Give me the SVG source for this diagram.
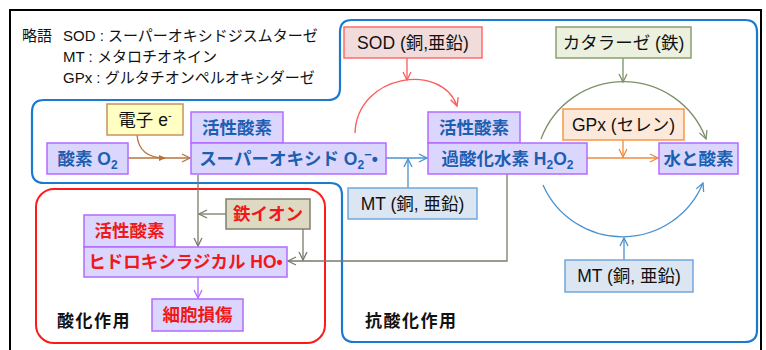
<svg xmlns="http://www.w3.org/2000/svg" width="766" height="350" viewBox="0 0 766 350">
<style>
text{font-family:"Liberation Sans","Noto Sans CJK JP",sans-serif;}
.lg{font-size:15px;fill:#111;}
.bt{font-size:17.5px;font-weight:bold;fill:#1c5fb0;text-anchor:middle;}
.rt{font-size:17.5px;font-weight:bold;fill:#f01818;text-anchor:middle;}
.kt{font-size:17.5px;fill:#111;text-anchor:middle;}
.cl{font-size:17px;font-weight:bold;fill:#111;letter-spacing:1.5px;}
.pb{fill:#dad6fe;stroke:#b36bff;stroke-width:1.5;}
.sod{fill:#f2dcdb;stroke:#ff6b6b;stroke-width:1.5;}
.cat{fill:#ebf1de;stroke:#8c9e74;stroke-width:1.5;}
.gpx{fill:#fde9d9;stroke:#f79646;stroke-width:1.5;}
.mt{fill:#dce6f2;stroke:#6fa8dc;stroke-width:1.5;}
.el{fill:#ffffc4;stroke:#c8925a;stroke-width:1.5;}
.fe{fill:#ddd9c3;stroke:#7f7f6f;stroke-width:1.5;}
.c{fill:none;stroke-width:1.3;}
</style>
<defs>
<marker id="aBr" markerUnits="userSpaceOnUse" markerWidth="12" markerHeight="12" refX="9" refY="5" orient="auto"><path d="M1,1 L9,5 L1,9" fill="none" stroke="#b8733a" stroke-width="1.3"/></marker>
<marker id="aBl" markerUnits="userSpaceOnUse" markerWidth="12" markerHeight="12" refX="9" refY="5" orient="auto"><path d="M1,1 L9,5 L1,9" fill="none" stroke="#4a90d0" stroke-width="1.3"/></marker>
<marker id="aRd" markerUnits="userSpaceOnUse" markerWidth="12" markerHeight="12" refX="9" refY="5" orient="auto"><path d="M1,1 L9,5 L1,9" fill="none" stroke="#ff5a5a" stroke-width="1.3"/></marker>
<marker id="aGr" markerUnits="userSpaceOnUse" markerWidth="12" markerHeight="12" refX="9" refY="5" orient="auto"><path d="M1,1 L9,5 L1,9" fill="none" stroke="#7d9068" stroke-width="1.3"/></marker>
<marker id="aOr" markerUnits="userSpaceOnUse" markerWidth="12" markerHeight="12" refX="9" refY="5" orient="auto"><path d="M1,1 L9,5 L1,9" fill="none" stroke="#f08a40" stroke-width="1.3"/></marker>
<marker id="aGy" markerUnits="userSpaceOnUse" markerWidth="12" markerHeight="12" refX="9" refY="5" orient="auto"><path d="M1,1 L9,5 L1,9" fill="none" stroke="#7a7a6a" stroke-width="1.3"/></marker>
<marker id="aPu" markerUnits="userSpaceOnUse" markerWidth="12" markerHeight="12" refX="9" refY="5" orient="auto"><path d="M1,1 L9,5 L1,9" fill="none" stroke="#b36bff" stroke-width="1.3"/></marker>
<marker id="aBrF" markerUnits="userSpaceOnUse" markerWidth="10" markerHeight="10" refX="6" refY="4" orient="auto"><path d="M0,1 L7,4 L0,7 Z" fill="#b8733a"/></marker>
</defs>
<rect width="766" height="350" fill="#ffffff"/>
<rect x="10" y="10" width="751" height="360" fill="none" stroke="#000" stroke-width="2"/>

<g id="containers">
<path d="M32,112 Q32,100 44,100 H328 Q340,100 340,88 V32 Q340,20 352,20 H745 Q757,20 757,32 V330 Q757,342 745,342 H354 Q342,342 342,330 V195 Q342,183 330,183 H44 Q32,183 32,171 Z" fill="none" stroke="#1a7ad0" stroke-width="2.2"/>
<rect x="36" y="189" width="289" height="154" rx="18" fill="none" stroke="#ff1a1a" stroke-width="2"/>
<text class="cl" x="57" y="327">酸化作用</text>
<text class="cl" x="365" y="327">抗酸化作用</text>
</g>

<g id="legend">
<text class="lg" x="22" y="41">略語</text>
<text class="lg" x="63" y="41">SOD : スーパーオキシドジスムターゼ</text>
<text class="lg" x="63" y="62">MT : メタロチオネイン</text>
<text class="lg" x="63" y="83">GPx : グルタチオンペルオキシダーゼ</text>
</g>

<g id="connectors">
<line class="c" x1="128" y1="158" x2="190" y2="158" stroke="#b8733a" marker-end="url(#aBr)"/>
<path class="c" d="M137,135 Q139,158 165,158" stroke="#b8733a" marker-end="url(#aBrF)"/>
<line class="c" x1="386" y1="158" x2="427" y2="158" stroke="#4a90d0" marker-end="url(#aBl)"/>
<line class="c" x1="408" y1="188" x2="408" y2="159" stroke="#4a90d0" marker-end="url(#aBl)"/>
<line class="c" x1="407" y1="58" x2="407" y2="80" stroke="#ff5a5a" marker-end="url(#aRd)"/>
<path class="c" d="M355,133 C357,74 442,62 457,106" stroke="#ff5a5a" marker-end="url(#aRd)"/>
<line class="c" x1="623" y1="58" x2="623" y2="82" stroke="#7d9068" marker-end="url(#aGr)"/>
<path class="c" d="M541,139 A88,88 0 0 1 706,139" stroke="#7d9068" marker-end="url(#aGr)"/>
<path class="c" d="M543,185 A87,87 0 0 0 703,183" stroke="#4a90d0" marker-end="url(#aBl)"/>
<line class="c" x1="624" y1="260" x2="624" y2="238" stroke="#4a90d0" marker-end="url(#aBl)"/>
<line class="c" x1="587" y1="158" x2="658" y2="158" stroke="#f08a40" marker-end="url(#aOr)"/>
<line class="c" x1="623" y1="140" x2="623" y2="157" stroke="#f08a40" marker-end="url(#aOr)"/>
<line class="c" x1="198" y1="175" x2="198" y2="246" stroke="#7a7a6a" marker-end="url(#aGy)"/>
<line class="c" x1="226" y1="214" x2="199" y2="214" stroke="#7a7a6a" marker-end="url(#aGy)"/>
<line class="c" x1="303" y1="229" x2="303" y2="260" stroke="#7a7a6a" marker-end="url(#aGy)"/>
<polyline class="c" points="507,174 507,261 288,261" stroke="#7a7a6a" marker-end="url(#aGy)"/>
<line class="c" x1="198" y1="277" x2="198" y2="298" stroke="#b36bff" marker-end="url(#aPu)"/>
</g>

<g id="sod"><rect class="sod" x="344" y="27" width="138" height="31"/><text class="kt" x="413" y="49">SOD (銅,亜鉛)</text></g>
<g id="catalase"><rect class="cat" x="556" y="27" width="135" height="31"/><text class="kt" x="623.5" y="49">カタラーゼ (鉄)</text></g>
<g id="electron"><rect class="el" x="107" y="104" width="76" height="31"/><text class="kt" x="145" y="126">電子 e<tspan font-size="11" dy="-7">-</tspan></text></g>
<g id="oxygen"><rect class="pb" x="47" y="143" width="81" height="31"/><text class="bt" x="87.5" y="165">酸素 O<tspan font-size="12" dy="4">2</tspan></text></g>
<g id="ros1"><rect class="pb" x="191" y="112" width="92" height="31"/><text class="bt" x="237" y="134">活性酸素</text></g>
<g id="superoxide"><rect class="pb" x="191" y="143" width="195" height="31"/><text class="bt" x="288.5" y="165">スーパーオキシド O<tspan font-size="12" dy="4">2</tspan><tspan font-size="13" dy="-10">−</tspan><tspan dy="6">•</tspan></text></g>
<g id="ros2"><rect class="pb" x="428" y="112" width="92" height="31"/><text class="bt" x="474" y="134">活性酸素</text></g>
<g id="h2o2"><rect class="pb" x="428" y="143" width="159" height="31"/><text class="bt" x="507.5" y="165">過酸化水素 H<tspan font-size="12" dy="4">2</tspan><tspan dy="-4">O</tspan><tspan font-size="12" dy="4">2</tspan></text></g>
<g id="gpx"><rect class="gpx" x="563" y="109" width="121" height="31"/><text class="kt" x="623.5" y="131">GPx (セレン)</text></g>
<g id="water"><rect class="pb" x="659" y="143" width="79" height="31"/><text class="bt" x="698.5" y="165">水と酸素</text></g>
<g id="mt1"><rect class="mt" x="348" y="188" width="129" height="31"/><text class="kt" x="412.5" y="210">MT (銅, 亜鉛)</text></g>
<g id="mt2"><rect class="mt" x="565" y="260" width="128" height="32"/><text class="kt" x="629" y="282">MT (銅, 亜鉛)</text></g>
<g id="iron"><rect class="fe" x="226" y="199" width="84" height="30"/><text class="rt" x="268" y="220">鉄イオン</text></g>
<g id="ros3"><rect class="pb" x="84" y="215" width="91" height="32"/><text class="rt" x="129.5" y="237">活性酸素</text></g>
<g id="hydroxyl"><rect class="pb" x="84" y="247" width="203" height="30"/><text class="rt" x="185.5" y="268">ヒドロキシラジカル HO•</text></g>
<g id="damage"><rect class="pb" x="152" y="299" width="91" height="32"/><text class="rt" x="197.5" y="321">細胞損傷</text></g>
</svg>
